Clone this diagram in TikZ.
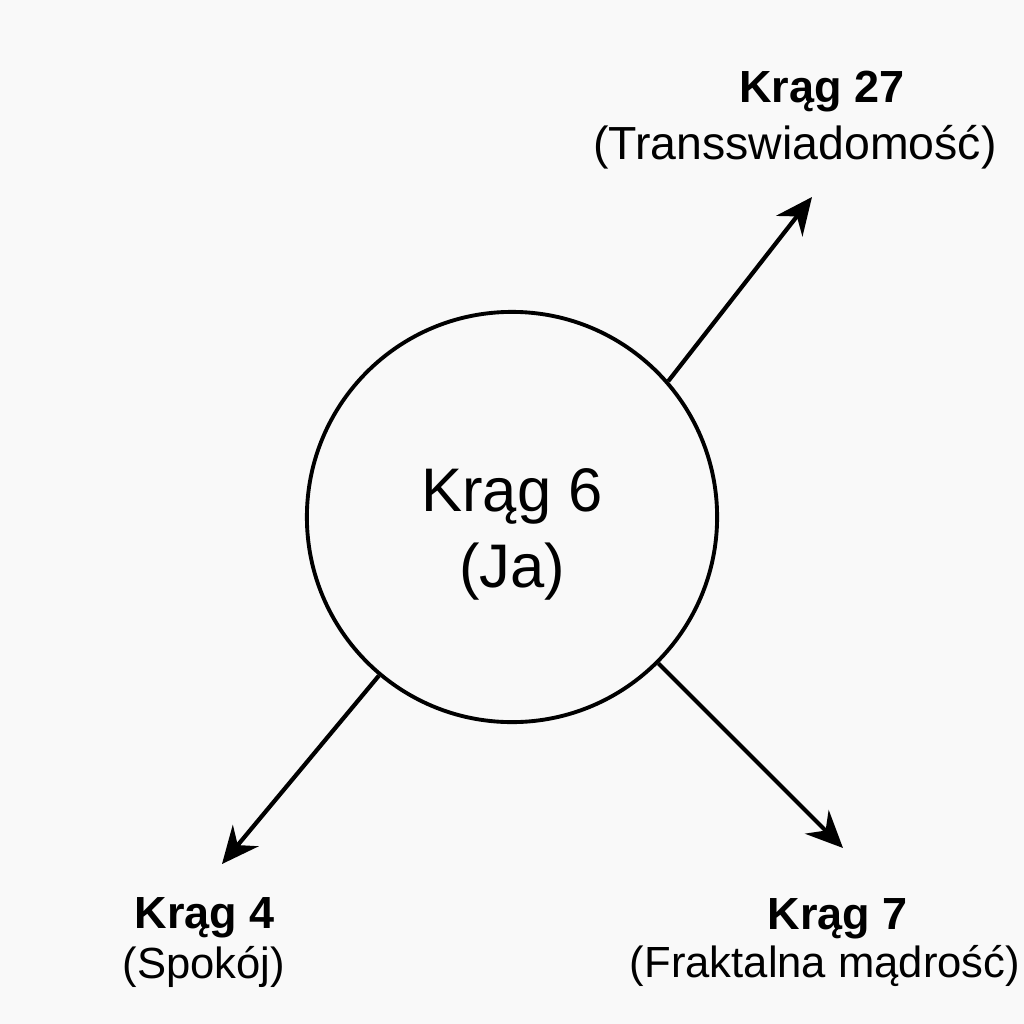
\documentclass[tikz,border=0pt]{standalone}
\usepackage{fontspec}
\setmainfont{Liberation Sans}
\usetikzlibrary{arrows.meta}
\definecolor{paper}{RGB}{249,249,249}
\tikzstyle{ring} = [draw, circle, line width=1.1pt,
minimum size=4.1cm, inner sep=0pt]
\tikzstyle{core} = [align=center, inner sep=0pt,
font=\fontsize{17.5}{21.6}\selectfont]
\tikzstyle{title} = [anchor=base, inner sep=0pt,
font=\bfseries\fontsize{12.8}{15}\selectfont]
\tikzstyle{subtitle} = [anchor=base, inner sep=0pt,
font=\fontsize{12.4}{15}\selectfont]
\tikzstyle{link} = [-{Stealth[length=10.5pt,width=9.5pt,inset=3.5pt]}, line width=1.2pt]

\begin{document}
\begin{tikzpicture}[x=0.01cm, y=-0.01cm]
    \fill[paper] (0,0) rectangle (1024,1024);
    \useasboundingbox (0,0) rectangle (1024,1024);
    % the central circle
    \node [ring] (ja) at (512,517) {};
    \node [core] (jaText) at (512,534) {Krąg 6\\(Ja)};

    % the three outer circles, as labels
    \node [title] (k27) at (822,102) {Krąg 27};
    \node [subtitle, font=\fontsize{13.2}{15}\selectfont] (k27sub) at (795,159) {(Transswiadomość)};
    \node [title] (k4) at (205,928) {Krąg 4};
    \node [subtitle] (k4sub) at (204,978) {(Spokój)};
    \node [title] (k7) at (838,929) {Krąg 7};
    \node [subtitle] (k7sub) at (825,977) {(Fraktalna mądrość)};

    % free ends of the arrows
    \coordinate (tip27) at (812,197);
    \coordinate (tip4) at (222,864);
    \coordinate (tip7) at (843,848);

    \draw [link] (ja.41.5) -- (tip27);
    \draw [link] (ja.230.5) -- (tip4);
    \draw [link] (ja.315) -- (tip7);
\end{tikzpicture}
\end{document}
